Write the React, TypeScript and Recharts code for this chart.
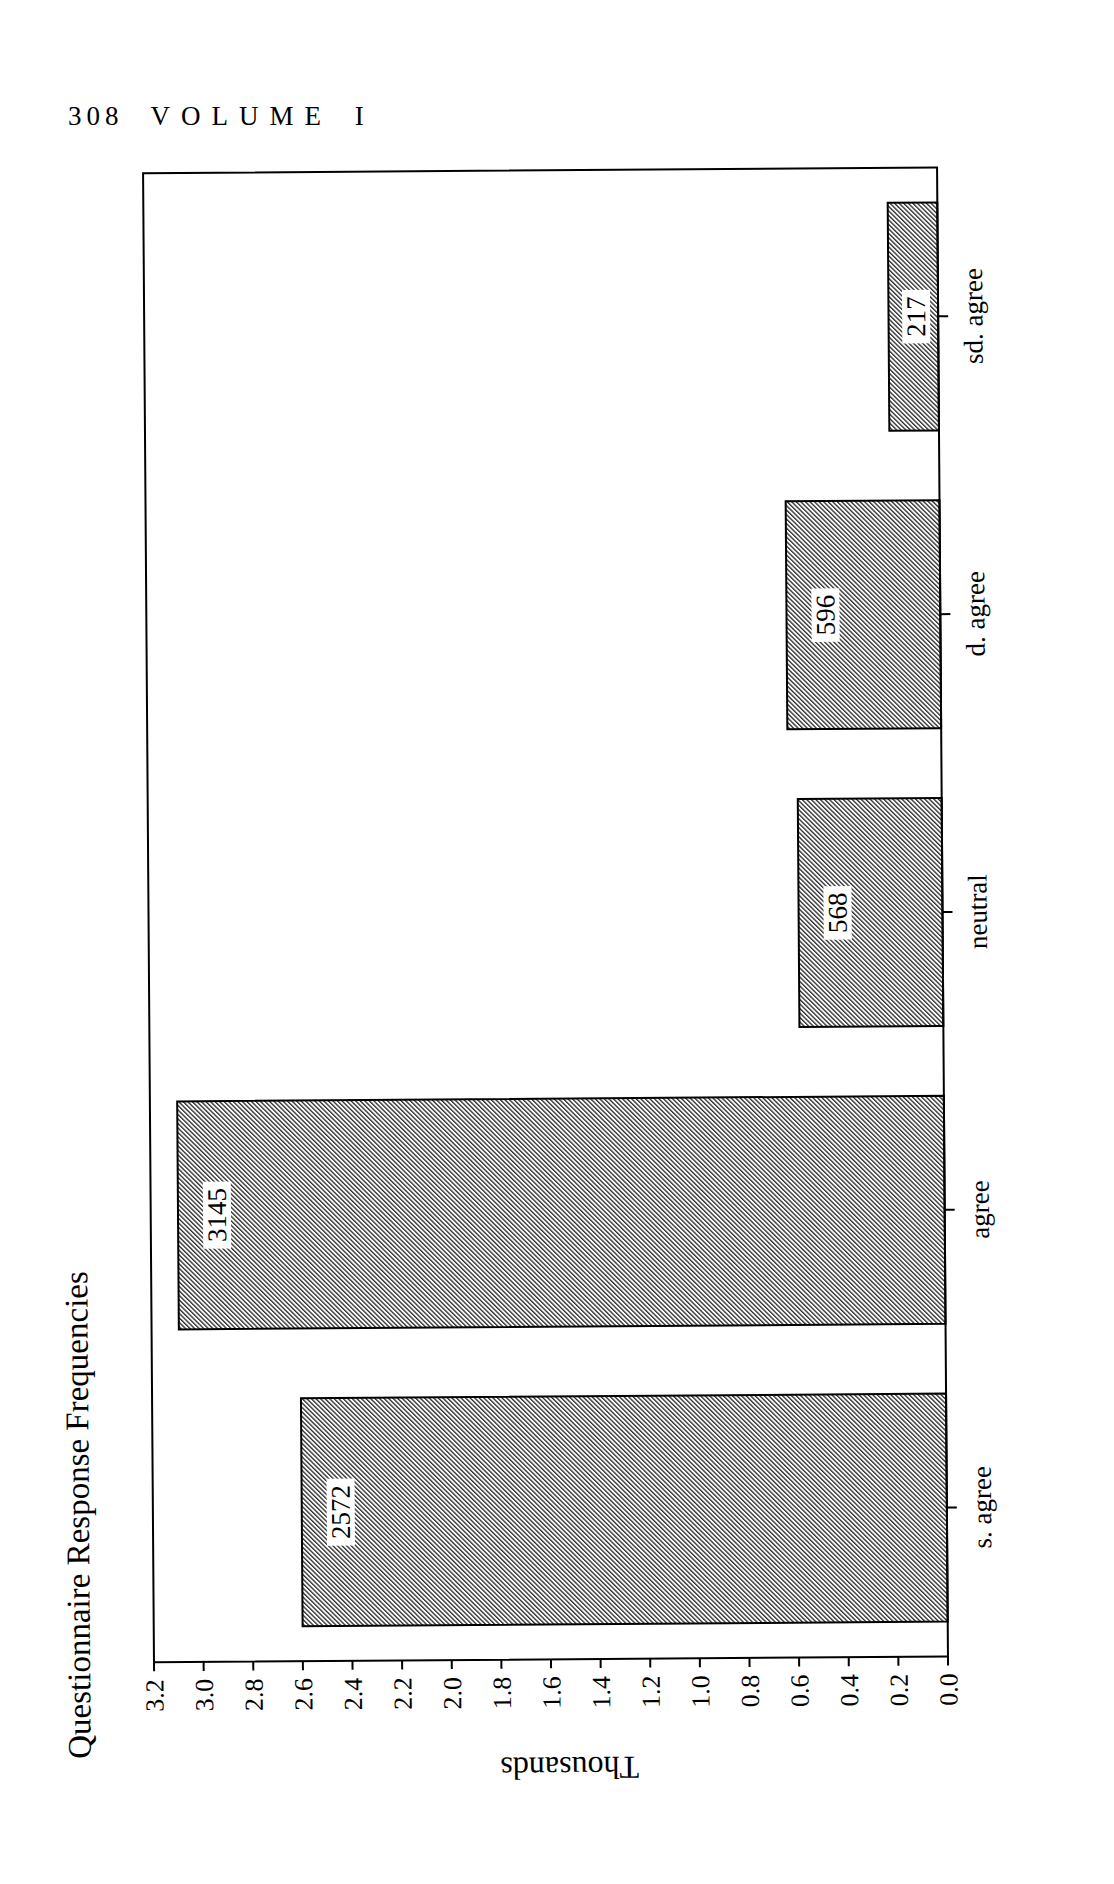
import React from "react";
import { BarChart, Bar, XAxis, YAxis, LabelList } from "recharts";

// categories left-to-right in the chart's own (unrotated) frame
const categories = ["s. agree", "agree", "neutral", "d. agree", "sd. agree"];
// bar lengths in thousands
const barLengths = [2.6, 3.09, 0.58, 0.62, 0.2];
// counts printed inside the bars
const printedCounts = ["2572", "3145", "568", "596", "217"];
const valueTicks = [0, 0.2, 0.4, 0.6, 0.8, 1.0, 1.2, 1.4, 1.6, 1.8, 2.0, 2.2, 2.4, 2.6, 2.8, 3.0, 3.2];

const SERIF = '"Liberation Serif", "Times New Roman", serif';

// chart is drawn upright, then the whole block is turned on its side like the printed page
const CHART_W = 1646;
const CHART_H = 977;
const MARGIN = { top: 103, right: 20, bottom: 10, left: 37 };
const Y_AXIS_W = 100;
const X_AXIS_H = 70;
const PLOT_LEFT = MARGIN.left + Y_AXIS_W;
const PLOT_TOP = MARGIN.top;
const PLOT_W = CHART_W - PLOT_LEFT - MARGIN.right;
const PLOT_H = CHART_H - MARGIN.top - MARGIN.bottom - X_AXIS_H;

const data = categories.map((name, i) => ({
  name,
  value: barLengths[i],
  count: printedCounts[i],
}));

function CountLabel(props: any) {
  const x = Number(props.x);
  const y = Number(props.y);
  const w = Number(props.width);
  const h = Number(props.height);
  const text = String(props.value);
  const off = Math.min(25, h - 36);
  const boxW = text.length * 13.5 + 13;
  const cx = x + w / 2;
  return (
    <g>
      <rect x={cx - boxW / 2} y={y + off} width={boxW} height={28} fill="#fff" />
      <text
        x={cx}
        y={y + off + 23}
        textAnchor="middle"
        fontSize={27}
        fontFamily={SERIF}
        fill="#000"
      >
        {text}
      </text>
    </g>
  );
}

function ThousandsLabel() {
  const x = PLOT_LEFT - 98;
  const y = PLOT_TOP + PLOT_H / 2 + 18;
  return (
    <text
      x={x}
      y={y}
      transform={`rotate(-90 ${x} ${y})`}
      textAnchor="middle"
      fontSize={32}
      fontFamily={SERIF}
      fill="#000"
    >
      Thousands
    </text>
  );
}

export default function App() {
  return (
    <div
      style={{
        position: "relative",
        width: 1098,
        height: 1868,
        fontFamily: SERIF,
        color: "#000",
        background: "#fff",
      }}
    >
      <svg width={0} height={0} style={{ position: "absolute" }}>
        <defs>
          <pattern
            id="hatch"
            patternUnits="userSpaceOnUse"
            width={3.2}
            height={3.2}
            patternTransform="rotate(45)"
          >
            <rect width={3.2} height={3.2} fill="#fff" />
            <line x1={0.7} y1={0} x2={0.7} y2={3.2} stroke="#000" strokeWidth={1.1} />
          </pattern>
        </defs>
      </svg>

      <div
        style={{
          position: "absolute",
          left: 60,
          top: 95,
          fontSize: 27,
          lineHeight: "27px",
          whiteSpace: "nowrap",
        }}
      >
        <span style={{ letterSpacing: 5 }}>308</span>
        <span style={{ marginLeft: 27, letterSpacing: 11, wordSpacing: 5 }}>VOLUME I</span>
      </div>

      <div
        style={{
          position: "absolute",
          left: 44,
          top: 1792,
          width: CHART_W,
          height: CHART_H,
          transform: "rotate(-90.42deg)",
          transformOrigin: "0 0",
        }}
      >
        <div
          style={{
            position: "absolute",
            left: 41,
            top: 12,
            fontSize: 33,
            lineHeight: "33px",
            whiteSpace: "nowrap",
          }}
        >
          Questionnaire Response Frequencies
        </div>

        <BarChart
          width={CHART_W}
          height={CHART_H}
          data={data}
          margin={MARGIN}
          barCategoryGap="11.7%"
        >
          <XAxis
            dataKey="name"
            type="category"
            height={X_AXIS_H}
            interval={0}
            axisLine={false}
            tickSize={10}
            tickMargin={15}
            tickLine={{ stroke: "#000", strokeWidth: 2 }}
            tick={{ fill: "#000", fontSize: 27, fontFamily: SERIF }}
          />
          <YAxis
            type="number"
            domain={[0, 3.2]}
            ticks={valueTicks}
            interval={0}
            width={Y_AXIS_W}
            axisLine={false}
            tickSize={9}
            tickMargin={8}
            tickLine={{ stroke: "#000", strokeWidth: 2 }}
            tick={{ fill: "#000", fontSize: 26, fontFamily: SERIF }}
            tickFormatter={(v: number) => v.toFixed(1)}
            label={{ content: ThousandsLabel }}
          />
          <Bar
            dataKey="value"
            fill="url(#hatch)"
            stroke="#000"
            strokeWidth={2}
            isAnimationActive={false}
          >
            <LabelList dataKey="count" content={CountLabel} />
          </Bar>
        </BarChart>

        <div
          style={{
            position: "absolute",
            left: PLOT_LEFT - 1,
            top: PLOT_TOP - 1,
            width: PLOT_W + 2,
            height: PLOT_H + 2,
            border: "2px solid #000",
            boxSizing: "border-box",
            pointerEvents: "none",
          }}
        />
      </div>
    </div>
  );
}
